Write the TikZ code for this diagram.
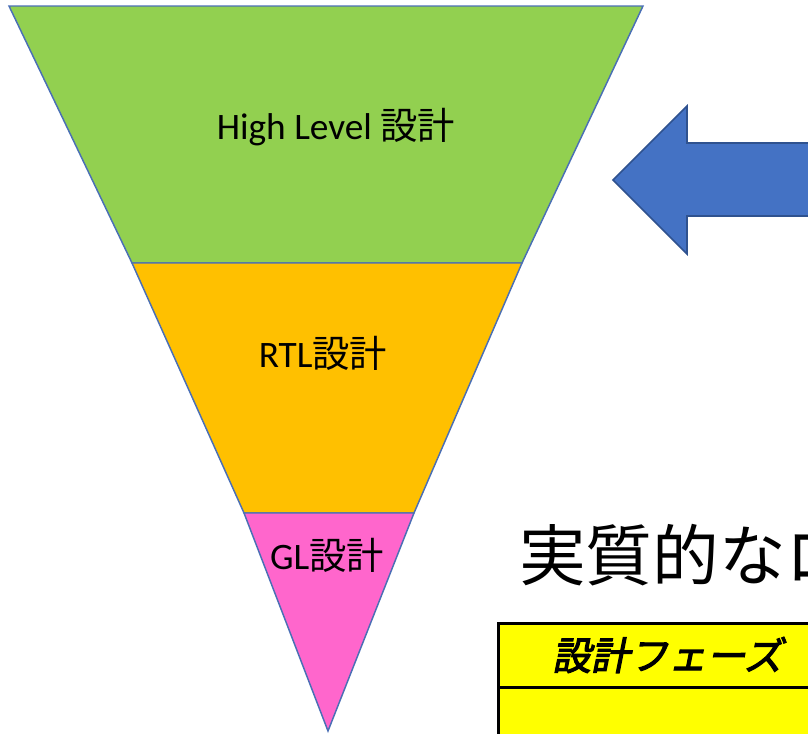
\documentclass[tikz,border=0pt]{standalone}
\usepackage{fontspec}
\setmainfont{Carlito}
\newfontfamily\jp{Noto Sans CJK JP}
\newfontfamily\jphead[FakeSlant=0.2,FakeBold=3]{Noto Sans CJK JP}
\definecolor{lvgreen}{HTML}{92D050}
\definecolor{lvorange}{HTML}{FFC000}
\definecolor{lvpink}{HTML}{FF66CC}
\definecolor{arrowblue}{HTML}{4472C4}
\definecolor{arrowedge}{HTML}{2F528F}
\definecolor{bandedge}{HTML}{4A6FB5}
\definecolor{tabyellow}{HTML}{FFFF00}
\tikzset{
  band/.style={draw=bandedge, line width=1.1pt, line join=miter},
  bandtext/.style={font=\fontsize{28}{33}\selectfont, text=black, inner sep=0pt},
  bigarrow/.style={fill=arrowblue, draw=arrowedge, line width=1.2pt, line join=miter},
  tablebox/.style={fill=tabyellow, draw=black, line width=2.3pt},
}
\begin{document}
\begin{tikzpicture}[x=0.75pt, y=-0.75pt]
\useasboundingbox (0,0) rectangle (808,733);
\clip (0,0) rectangle (808,733);
% funnel bands
\draw[band, fill=lvgreen] (9,6) -- (643,6) -- (522,263) -- (132,263) -- cycle;
\draw[band, fill=lvorange] (132,263) -- (522,263) -- (414,513) -- (244,513) -- cycle;
\draw[band, fill=lvpink] (244,513) -- (414,513) -- (328,731) -- cycle;
\node[bandtext] (hl) at (336,127) {High Level {\jp 設計}};
\node[bandtext] (rtl) at (323,353) {RTL{\jp 設計}};
\node[bandtext] (gl) at (327,555) {GL{\jp 設計}};
% arrow
\draw[bigarrow] (613,180) -- (687,106) -- (687,143) -- (830,143) -- (830,216) -- (687,216) -- (687,254) -- cycle;
% title
\node[anchor=west, inner sep=0pt, font=\jp\fontsize{50}{58}\selectfont] (title) at (519,555) {実質的なロ};
% table
\draw[tablebox] (498.5,623.5) rectangle (840,760);
\draw[black, line width=2.3pt] (498,687.5) -- (840,687.5);
\node[anchor=west, inner sep=0pt, font=\jphead\fontsize{29}{35}\selectfont] (head) at (552,655) {設計フェーズ};
\end{tikzpicture}
\end{document}
